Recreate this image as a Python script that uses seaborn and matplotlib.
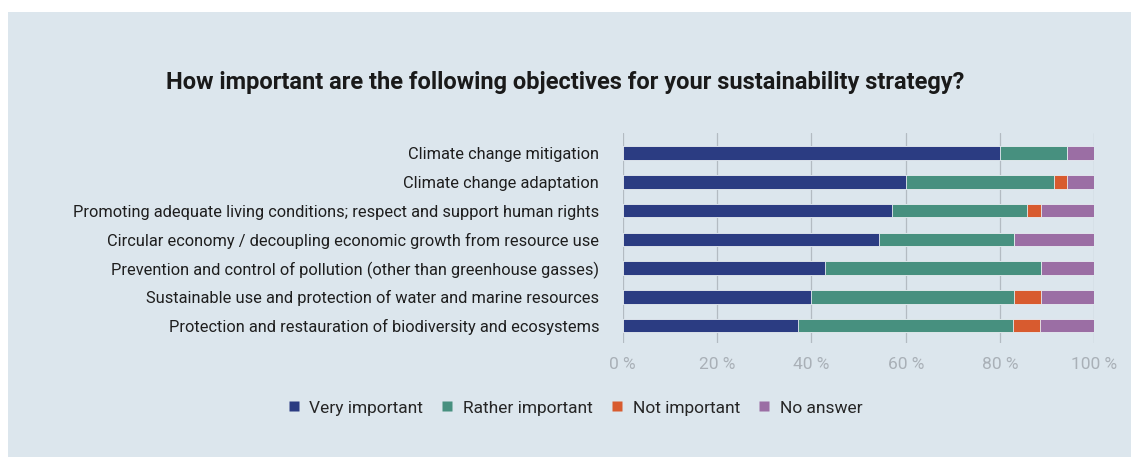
import numpy as np
import pandas as pd
import matplotlib
matplotlib.use('Agg')
import matplotlib.pyplot as plt
import seaborn as sns
from matplotlib.patches import Rectangle
from matplotlib.lines import Line2D

objectives = [
    'Climate change mitigation',
    'Climate change adaptation',
    'Promoting adequate living conditions; respect and support human rights',
    'Circular economy / decoupling economic growth from resource use',
    'Prevention and control of pollution (other than greenhouse gasses)',
    'Sustainable use and protection of water and marine resources',
    'Protection and restauration of biodiversity and ecosystems',
]
very_important = [80.0, 60.0, 57.1, 54.3, 42.9, 40.0, 37.1]
rather_important = [14.3, 31.4, 28.6, 28.6, 45.7, 42.9, 45.7]
not_important = [0.0, 2.9, 2.9, 0.0, 0.0, 5.7, 5.7]
no_answer = [5.7, 5.7, 11.4, 17.1, 11.4, 11.4, 11.4]

series = ['Very important', 'Rather important', 'Not important', 'No answer']
colors = ['#2b3c82', '#47907f', '#d85b2f', '#9b6ea4']
ticks = [0, 20, 40, 60, 80, 100]

sns.set_theme(style='white')
plt.rcParams['font.family'] = ['Roboto', 'DejaVu Sans']

df = pd.DataFrame({'objective': objectives, 'Very important': very_important,
                   'Rather important': rather_important,
                   'Not important': not_important, 'No answer': no_answer})
cum = df[series].cumsum(axis=1)

bg = '#dce6ed'
fig = plt.figure(figsize=(11.31, 4.57), dpi=100)
fig.patch.set_facecolor('white')
fig.patches.append(Rectangle((8 / 1131, 0), 1, 1 - 12 / 457, transform=fig.transFigure,
                             facecolor=bg, edgecolor='none', zorder=-5))

ax = fig.add_axes([0.5506, 0.2495, 0.417, 0.4595])
ax.set_facecolor('none')
ax.set_zorder(2)

# draw from the full stack down so the shorter ones sit on top
for name, col in reversed(list(zip(series, colors))):
    sns.barplot(x=cum[name], y=df['objective'], orient='h', color=col,
                width=0.47, ax=ax, edgecolor='#e8eef2', linewidth=0.6,
                saturation=1, zorder=3)

ax.set_xlim(0, 100)
ax.set_ylim(6.6, -0.7)
ax.set_xticks(ticks)
ax.set_xticklabels([f'{t} %' for t in ticks], color='#a9b0b7', fontsize=12.5)
ax.tick_params(axis='x', length=0, pad=10)
ax.tick_params(axis='y', length=0, pad=17, labelsize=11.8, labelcolor='#1e1e1e')
ax.set_xlabel('')
ax.set_ylabel('')
for t in ticks:
    ax.axvline(t, color='#b3bbc2', linewidth=0.9, zorder=1)
for s in ax.spines.values():
    s.set_visible(False)

fig.text(0.5, 1 - 83 / 457, 'How important are the following objectives for your sustainability strategy?',
         ha='center', va='center', fontsize=17, fontweight='bold', color='#1a1a1a')

handles = [Line2D([0], [0], marker='s', linestyle='none', markersize=7,
                  markerfacecolor=c, markeredgecolor='none') for c in colors]
fig.legend(handles, series, loc='center', bbox_to_anchor=(0.508, 1 - 408 / 457), ncol=4,
           frameon=False, fontsize=12.5, handletextpad=0.5, columnspacing=1.0,
           handlelength=0.8)

fig.savefig('out.png', dpi=100, facecolor=fig.get_facecolor())
